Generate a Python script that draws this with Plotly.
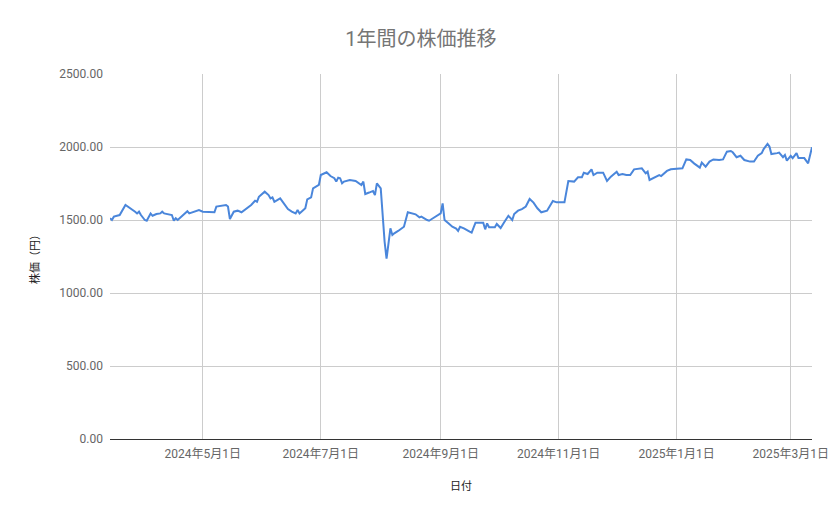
import plotly.graph_objects as go

dates = [
    "2024-03-14", "2024-03-15", "2024-03-16", "2024-03-19", "2024-03-22", "2024-03-24",
    "2024-03-26", "2024-03-27", "2024-03-28", "2024-03-29", "2024-03-30", "2024-04-01",
    "2024-04-02", "2024-04-04", "2024-04-05", "2024-04-07", "2024-04-09", "2024-04-10",
    "2024-04-11", "2024-04-15", "2024-04-16", "2024-04-17", "2024-04-18", "2024-04-21",
    "2024-04-23", "2024-04-24", "2024-04-27", "2024-04-29", "2024-05-01", "2024-05-04",
    "2024-05-07", "2024-05-08", "2024-05-11", "2024-05-13", "2024-05-14", "2024-05-15",
    "2024-05-17", "2024-05-19", "2024-05-21", "2024-05-24", "2024-05-26", "2024-05-28",
    "2024-05-29", "2024-05-30", "2024-06-01", "2024-06-02", "2024-06-04", "2024-06-05",
    "2024-06-06", "2024-06-07", "2024-06-10", "2024-06-12", "2024-06-14", "2024-06-16",
    "2024-06-18", "2024-06-19", "2024-06-20", "2024-06-21", "2024-06-23", "2024-06-24",
    "2024-06-26", "2024-06-27", "2024-06-29", "2024-06-30", "2024-07-01", "2024-07-03",
    "2024-07-04", "2024-07-06", "2024-07-08", "2024-07-09", "2024-07-10", "2024-07-11",
    "2024-07-12", "2024-07-13", "2024-07-16", "2024-07-19", "2024-07-20", "2024-07-22",
    "2024-07-23", "2024-07-24", "2024-07-26", "2024-07-28", "2024-07-29", "2024-07-30",
    "2024-08-01", "2024-08-02", "2024-08-03", "2024-08-04", "2024-08-06", "2024-08-07",
    "2024-08-08", "2024-08-10", "2024-08-13", "2024-08-15", "2024-08-18", "2024-08-19",
    "2024-08-21", "2024-08-22", "2024-08-25", "2024-08-26", "2024-08-28", "2024-08-30",
    "2024-09-01", "2024-09-02", "2024-09-03", "2024-09-05", "2024-09-07", "2024-09-09",
    "2024-09-10", "2024-09-11", "2024-09-13", "2024-09-16", "2024-09-17", "2024-09-19",
    "2024-09-21", "2024-09-23", "2024-09-24", "2024-09-25", "2024-09-26", "2024-09-28",
    "2024-09-29", "2024-09-30", "2024-10-02", "2024-10-04", "2024-10-06", "2024-10-08",
    "2024-10-09", "2024-10-11", "2024-10-13", "2024-10-15", "2024-10-17", "2024-10-19",
    "2024-10-21", "2024-10-23", "2024-10-26", "2024-10-29", "2024-10-31", "2024-11-04",
    "2024-11-06", "2024-11-09", "2024-11-11", "2024-11-13", "2024-11-14", "2024-11-16",
    "2024-11-18", "2024-11-19", "2024-11-21", "2024-11-24", "2024-11-26", "2024-11-28",
    "2024-12-01", "2024-12-02", "2024-12-04", "2024-12-06", "2024-12-08", "2024-12-10",
    "2024-12-14", "2024-12-16", "2024-12-17", "2024-12-18", "2024-12-21", "2024-12-23",
    "2024-12-24", "2024-12-27", "2024-12-29", "2025-01-04", "2025-01-06", "2025-01-08",
    "2025-01-10", "2025-01-13", "2025-01-14", "2025-01-16", "2025-01-18", "2025-01-20",
    "2025-01-23", "2025-01-25", "2025-01-27", "2025-01-29", "2025-01-30", "2025-02-01",
    "2025-02-03", "2025-02-05", "2025-02-08", "2025-02-10", "2025-02-12", "2025-02-14",
    "2025-02-15", "2025-02-17", "2025-02-18", "2025-02-19", "2025-02-22", "2025-02-23",
    "2025-02-25", "2025-02-26", "2025-02-27", "2025-03-01", "2025-03-02", "2025-03-04",
    "2025-03-05", "2025-03-08", "2025-03-10", "2025-03-12",
]

prices = [
    1512, 1500, 1523, 1534, 1603, 1587,
    1568, 1557, 1545, 1557, 1534, 1500,
    1495, 1545, 1529, 1541, 1545, 1557,
    1545, 1534, 1495, 1512, 1500, 1534,
    1560, 1545, 1557, 1568, 1557, 1553,
    1553, 1592, 1601, 1603, 1592, 1507,
    1557, 1564, 1553, 1580, 1603, 1632,
    1625, 1659, 1683, 1694, 1671, 1648,
    1655, 1625, 1648, 1614, 1575, 1557,
    1545, 1568, 1545, 1557, 1580, 1641,
    1655, 1717, 1733, 1740, 1808, 1820,
    1827, 1801, 1786, 1763, 1790, 1786,
    1751, 1763, 1774, 1767, 1756, 1740,
    1763, 1678, 1688, 1699, 1671, 1751,
    1717, 1500, 1351, 1235, 1443, 1397,
    1409, 1425, 1454, 1553, 1545, 1539,
    1518, 1523, 1500, 1495, 1512, 1529,
    1545, 1614, 1500, 1477, 1454, 1441,
    1425, 1454, 1443, 1420, 1413, 1482,
    1482, 1482, 1436, 1477, 1450, 1450,
    1450, 1473, 1445, 1488, 1529, 1500,
    1541, 1564, 1575, 1592, 1644, 1619,
    1580, 1553, 1564, 1630, 1621, 1621,
    1767, 1763, 1792, 1792, 1824, 1815,
    1847, 1808, 1824, 1824, 1767, 1797,
    1831, 1808, 1815, 1808, 1808, 1847,
    1854, 1820, 1831, 1774, 1792, 1808,
    1801, 1836, 1847, 1854, 1915, 1911,
    1888, 1859, 1893, 1865, 1900, 1915,
    1911, 1915, 1968, 1973, 1964, 1930,
    1940, 1911, 1900, 1900, 1940, 1958,
    1986, 2021, 2003, 1952, 1958, 1962,
    1930, 1945, 1907, 1940, 1924, 1958,
    1924, 1924, 1888, 1998,
]

title_text = "1年間の株価推移"
x_title = "日付"
y_title = "株価（円）"

FONT = "Roboto, 'Noto Sans CJK JP', sans-serif"

fig = go.Figure()
fig.add_trace(go.Scatter(
    x=dates, y=prices, mode="lines",
    line=dict(color="#4a86db", width=2),
    showlegend=False,
))

fig.update_layout(
    width=839, height=519,
    margin=dict(l=102, r=35, t=66, b=88),
    paper_bgcolor="white", plot_bgcolor="white",
    font=dict(family=FONT, size=12, color="#666666"),
    title=dict(text=title_text, x=0.492, xanchor="center", y=0.94, yanchor="middle",
               font=dict(family=FONT, size=20, color="#757575")),
    xaxis=dict(
        type="date",
        tick0="2024-05-01", dtick="M2",
        tickformat="%Y年%-m月%-d日",
        showgrid=True, gridcolor="#cccccc", gridwidth=1,
        ticks="", showline=False, zeroline=False,
        tickfont=dict(size=12, color="#666666"),
        ticklabelstandoff=6,
        title=dict(text=x_title, font=dict(size=11, color="#222222"), standoff=22),
    ),
    yaxis=dict(
        range=[0, 2500], tick0=0, dtick=500, tickformat=".2f",
        showgrid=True, gridcolor="#cccccc", gridwidth=1,
        zeroline=True, zerolinecolor="#333333", zerolinewidth=1,
        ticks="", showline=False,
        tickfont=dict(size=12, color="#666666"),
        title=dict(text=y_title, font=dict(size=11, color="#222222"), standoff=17),
        ticklabelstandoff=6,
    ),
)

fig.write_html("out.html")
